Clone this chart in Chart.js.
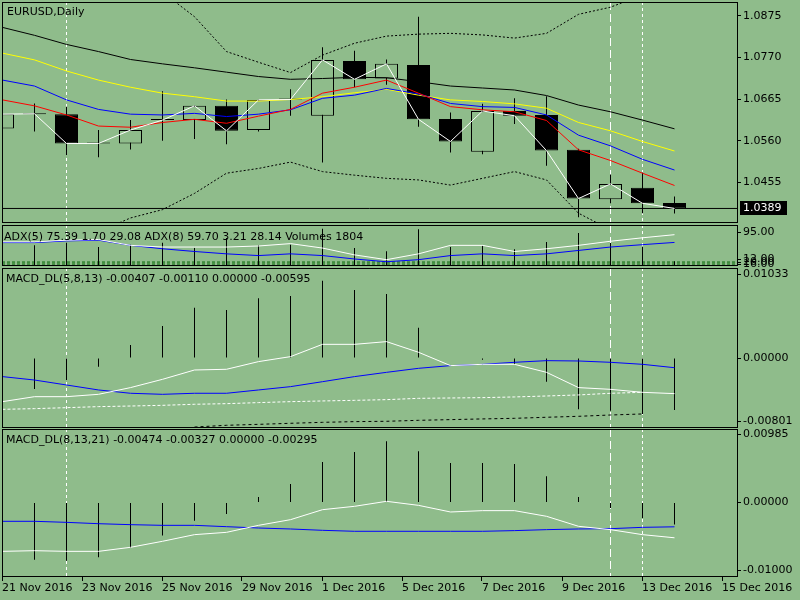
<!DOCTYPE html>
<html>
<head>
<meta charset="utf-8">
<title>EURUSD,Daily</title>
<script src="https://cdn.jsdelivr.net/npm/chart.js"></script>
<style>
    html, body { margin: 0; padding: 0; background: #8fbc8b; }
    body { width: 800px; height: 600px; position: relative; overflow: hidden; }
    canvas { position: absolute; left: 0; }
</style>
</head>
<body>
<canvas id="main" width="800" height="225" style="top:0px"></canvas>
<canvas id="adx" width="800" height="46" style="top:225px"></canvas>
<canvas id="macd1" width="800" height="160" style="top:268px"></canvas>
<canvas id="macd2" width="800" height="171" style="top:429px"></canvas>
<script>
// x axis date labels (one every 2.5 bars)
var dateLabels = ['21 Nov 2016', '23 Nov 2016', '25 Nov 2016', '29 Nov 2016', '1 Dec 2016', '5 Dec 2016', '7 Dec 2016', '9 Dec 2016', '13 Dec 2016', '15 Dec 2016'];
var labelStep = 2.5;

// daily candles
var opens  = [1.0591, 1.0627, 1.0627, 1.0553, 1.0553, 1.0612, 1.0612, 1.0648, 1.0587, 1.0664, 1.0623, 1.0761, 1.0717, 1.0751, 1.0615, 1.0532, 1.0635, 1.0625, 1.0537, 1.0412, 1.0441, 1.0403];
var highs  = [1.0640, 1.0654, 1.0646, 1.0587, 1.0612, 1.0685, 1.0650, 1.0664, 1.0664, 1.0690, 1.0796, 1.0787, 1.0765, 1.0873, 1.0631, 1.0653, 1.0667, 1.0672, 1.0540, 1.0475, 1.0480, 1.0419];
var lows   = [1.0578, 1.0583, 1.0524, 1.0518, 1.0538, 1.0560, 1.0564, 1.0551, 1.0583, 1.0623, 1.0505, 1.0695, 1.0701, 1.0595, 1.0530, 1.0526, 1.0602, 1.0497, 1.0367, 1.0402, 1.0377, 1.0376];
var closes = [1.0627, 1.0628, 1.0553, 1.0553, 1.0587, 1.0612, 1.0648, 1.0585, 1.0663, 1.0664, 1.0764, 1.0715, 1.0754, 1.0614, 1.0558, 1.0635, 1.0623, 1.0535, 1.0414, 1.0451, 1.0402, 1.0389];

// moving averages and bands on the price pane
var maBlack  = [1.0846, 1.0826, 1.0803, 1.0785, 1.0765, 1.0754, 1.0744, 1.0733, 1.0722, 1.0715, 1.0717, 1.0720, 1.0719, 1.0709, 1.0698, 1.0693, 1.0688, 1.0674, 1.0650, 1.0633, 1.0612, 1.0590];
var maYellow = [1.0781, 1.0764, 1.0736, 1.0713, 1.0695, 1.0680, 1.0671, 1.0660, 1.0660, 1.0664, 1.0671, 1.0681, 1.0690, 1.0675, 1.0663, 1.0659, 1.0653, 1.0642, 1.0606, 1.0585, 1.0558, 1.0534];
var maBlue   = [1.0713, 1.0698, 1.0663, 1.0639, 1.0627, 1.0625, 1.0629, 1.0621, 1.0627, 1.0638, 1.0667, 1.0675, 1.0692, 1.0678, 1.0654, 1.0646, 1.0644, 1.0625, 1.0574, 1.0547, 1.0513, 1.0486];
var maRed    = [1.0663, 1.0648, 1.0625, 1.0597, 1.0594, 1.0606, 1.0614, 1.0604, 1.0622, 1.0639, 1.0680, 1.0695, 1.0713, 1.0680, 1.0646, 1.0638, 1.0633, 1.0611, 1.0537, 1.0510, 1.0478, 1.0447];
var bandUpper = [1.1067, 1.1054, 1.1029, 1.1004, 1.0971, 1.0935, 1.0873, 1.0785, 1.0758, 1.0732, 1.0776, 1.0806, 1.0824, 1.0829, 1.0831, 1.0827, 1.0819, 1.0831, 1.0879, 1.0897, 1.0928, 1.0945];
var bandLower = [1.0259, 1.0272, 1.0289, 1.0330, 1.0365, 1.0386, 1.0427, 1.0478, 1.0490, 1.0506, 1.0482, 1.0473, 1.0465, 1.0461, 1.0448, 1.0465, 1.0482, 1.0461, 1.0377, 1.0335, 1.0297, 1.0272];

// ADX pane
var adx5 = [60.8, 60.8, 64.2, 65.6, 53.8, 50.4, 50.4, 50.4, 52.5, 57.3, 48.3, 34.5, 24.8, 36.6, 53.8, 53.8, 41.4, 46.9, 53.8, 62.1, 69.1, 75.39];
var adx8 = [59.4, 59.4, 62.8, 64.2, 53.8, 46.9, 41.4, 36.6, 33.1, 36.6, 33.1, 26.2, 20.6, 24.8, 33.1, 36.6, 33.1, 36.6, 43.5, 50.4, 55.2, 59.70];
var volumes = [8000, 7950, 8950, 7300, 8180, 8950, 6910, 10750, 7950, 8180, 14320, 6910, 5640, 14090, 7300, 7680, 6410, 9220, 12670, 8830, 7300, 1804];
var adxLevels = [20, 16];

// MACD_DL(5,8,13)
var macd1Main   = [-0.00499, -0.00442, -0.00442, -0.00415, -0.00338, -0.00243, -0.00136, -0.00128, -0.00040, 0.00017, 0.00158, 0.00158, 0.00189, 0.00067, -0.00086, -0.00071, -0.00071, -0.00163, -0.00338, -0.00358, -0.00392, -0.00407];
var macd1Signal = [-0.00212, -0.00251, -0.00308, -0.00365, -0.00403, -0.00415, -0.00403, -0.00403, -0.00365, -0.00327, -0.00270, -0.00212, -0.00163, -0.00117, -0.00086, -0.00071, -0.00048, -0.00029, -0.00033, -0.00048, -0.00071, -0.00110];
var macd1Hist   = [-0.00400, -0.00354, -0.00251, -0.00098, 0.00151, 0.00368, 0.00578, 0.00552, 0.00685, 0.00712, 0.00888, 0.00781, 0.00735, 0.00349, 0.00000, -0.00020, -0.00067, -0.00270, -0.00587, -0.00602, -0.00640, -0.00595];
var macd1Aux1   = [-0.00587, -0.00579, -0.00568, -0.00556, -0.00549, -0.00541, -0.00529, -0.00522, -0.00510, -0.00499, -0.00491, -0.00484, -0.00476, -0.00461, -0.00457, -0.00453, -0.00445, -0.00434, -0.00422, -0.00403, -0.00392, null];
var macd1Aux2   = [null, null, null, null, null, null, -0.00790, -0.00770, -0.00759, -0.00747, -0.00736, -0.00728, -0.00724, -0.00713, -0.00705, -0.00697, -0.00690, -0.00678, -0.00667, -0.00652, -0.00640, null];

// MACD_DL(8,13,21)
var macd2Main   = [-0.00656, -0.00647, -0.00656, -0.00656, -0.00602, -0.00521, -0.00432, -0.00401, -0.00307, -0.00231, -0.00097, -0.00052, 0.00015, -0.00039, -0.00128, -0.00110, -0.00110, -0.00186, -0.00320, -0.00365, -0.00432, -0.00474];
var macd2Signal = [-0.00253, -0.00253, -0.00267, -0.00285, -0.00298, -0.00307, -0.00307, -0.00325, -0.00343, -0.00356, -0.00374, -0.00387, -0.00387, -0.00387, -0.00387, -0.00387, -0.00378, -0.00365, -0.00356, -0.00352, -0.00334, -0.00327];
var macd2Hist   = [-0.00750, -0.00767, -0.00781, -0.00736, -0.00611, -0.00445, -0.00244, -0.00155, 0.00073, 0.00247, 0.00542, 0.00677, 0.00820, 0.00686, 0.00529, 0.00529, 0.00516, 0.00350, 0.00073, -0.00074, -0.00209, -0.00295];

// right axis tick values
var mainTicks  = [1.0455, 1.0560, 1.0665, 1.0770, 1.0875];
var adxTicks   = [95, 20, 16, 12];
var macd1Ticks = [0.01033, 0, -0.00801];
var macd2Ticks = [0.00985, 0, -0.01];

// bars marked with vertical lines
var markerBars = [2, 19, 20];

var bg = '#8fbc8b';
var xMin = -0.5 / 32;
var xMax = xMin + 735 / 32;

Chart.defaults.font.family = 'DejaVu Sans';
Chart.defaults.font.size = 11;
Chart.defaults.color = '#000';

function series(arr) {
    return arr.map(function (v, i) { return { x: i, y: v }; });
}
function span(a, b) {
    return a.map(function (v, i) { return { x: i, y: [v, b[i]] }; });
}
function line(data, color, order, dash, axis) {
    return {
        type: 'line', data: series(data), borderColor: color, borderWidth: 1,
        borderDash: dash || [], pointRadius: 0, tension: 0, fill: false,
        order: order, yAxisID: axis || 'y', spanGaps: false
    };
}
function level(v, color, order, dash) {
    return {
        type: 'line', data: [{ x: xMin, y: v }, { x: xMax, y: v }], borderColor: color,
        borderWidth: 1, borderDash: dash || [], pointRadius: 0, fill: false, order: order
    };
}
function sticks(data, order, axis) {
    return {
        type: 'bar', data: series(data), backgroundColor: '#000', borderWidth: 0,
        barThickness: 1, grouped: false, order: order, yAxisID: axis || 'y', inflateAmount: 0
    };
}

function yAxis(min, max, ticks, digits, paneH, inTop, inBottom) {
    return {
        position: 'right', min: min, max: max, bounds: 'data',
        grid: { drawOnChartArea: false, drawTicks: true, tickLength: 4, color: '#000' },
        border: { display: false },
        ticks: {
            padding: 2, autoSkip: false, color: '#000',
            callback: function (v, i) { return ticks[i].toFixed(digits); }
        },
        afterBuildTicks: function (s) {
            var perPx = (max - min) / paneH;
            s.ticks = ticks.map(function (v) {
                var p = v;
                if (v >= max) p = max - inTop * perPx;
                if (v <= min) p = min + inBottom * perPx;
                return { value: p };
            });
        },
        afterFit: function (s) { s.width = 63; s.paddingTop = 0; s.paddingBottom = 0; }
    };
}

function xAxis(show) {
    var ax = {
        type: 'linear', min: xMin, max: xMax, offset: false, display: show,
        grid: { drawOnChartArea: false, drawTicks: true, tickLength: 4, color: '#000', offset: false },
        border: { display: false },
        ticks: {
            align: 'start', maxRotation: 0, minRotation: 0, autoSkip: false, padding: 1, color: '#000',
            callback: function (v, i) { return dateLabels[i]; }
        },
        afterBuildTicks: function (s) {
            s.ticks = dateLabels.map(function (t, j) { return { value: xMin + j * labelStep }; });
        }
    };
    if (show) {
        ax.afterFit = function (s) { s.height = 23; s.paddingLeft = 0; s.paddingRight = 0; };
    }
    return ax;
}

var paneFrame = {
    id: 'paneFrame',
    afterDraw: function (chart, args, opts) {
        var ctx = chart.ctx, a = chart.chartArea;
        ctx.save();
        ctx.strokeStyle = '#000';
        ctx.lineWidth = 1;
        ctx.strokeRect(a.left + 0.5, a.top + 0.5, a.right - a.left, a.bottom - a.top - 1);
        ctx.fillStyle = '#000';
        ctx.font = '11px "DejaVu Sans"';
        ctx.textBaseline = 'middle';
        ctx.fillText(opts.title, opts.tx, a.top + opts.ty);
        ctx.restore();
    }
};

var markers = {
    id: 'markers',
    beforeDatasetsDraw: function (chart) {
        var ctx = chart.ctx, a = chart.chartArea, xs = chart.scales.x;
        var dashes = [[3, 3], [8, 4], [3, 3]];
        ctx.save();
        ctx.strokeStyle = '#fff';
        ctx.lineWidth = 1;
        markerBars.forEach(function (b, i) {
            var px = xs.getPixelForValue(b);
            ctx.setLineDash(dashes[i]);
            ctx.beginPath();
            ctx.moveTo(px, a.top);
            ctx.lineTo(px, a.bottom);
            ctx.stroke();
        });
        ctx.restore();
    }
};

var priceTag = {
    id: 'priceTag',
    afterDraw: function (chart) {
        var ctx = chart.ctx, a = chart.chartArea;
        var last = closes[closes.length - 1];
        var y = Math.round(chart.scales.y.getPixelForValue(last));
        ctx.save();
        ctx.fillStyle = '#000';
        ctx.fillRect(a.right + 3, y - 7, 47, 14);
        ctx.fillStyle = '#fff';
        ctx.font = '11px "DejaVu Sans"';
        ctx.textBaseline = 'middle';
        ctx.fillText(last.toFixed(4), a.right + 6, y + 0.5);
        ctx.restore();
    }
};

function baseOptions(padding, scales, frame) {
    return {
        responsive: false,
        animation: false,
        devicePixelRatio: 1,
        layout: { padding: padding },
        plugins: { legend: { display: false }, tooltip: { enabled: false }, paneFrame: frame },
        scales: scales
    };
}

// price pane
var bodyColors = closes.map(function (c, i) { return c >= opens[i] ? bg : '#000'; });
new Chart(document.getElementById('main'), {
    type: 'bar',
    data: {
        datasets: [
            line(closes, '#fff', 0),
            line(maRed, '#ff0000', 1),
            line(maBlue, '#0000ff', 1),
            line(maYellow, '#ffff00', 1),
            line(maBlack, '#000', 1),
            line(bandUpper, '#000', 2, [2, 2]),
            line(bandLower, '#000', 2, [2, 2]),
            {
                type: 'bar', data: span(opens, closes), backgroundColor: bodyColors, borderColor: '#000',
                borderWidth: 1, borderSkipped: false, barThickness: 23, minBarLength: 1,
                grouped: false, order: 3, inflateAmount: 0
            },
            {
                type: 'bar', data: span(lows, highs), backgroundColor: '#000', borderWidth: 0,
                barThickness: 1, grouped: false, order: 4, inflateAmount: 0
            },
            level(closes[closes.length - 1], '#000', 5)
        ]
    },
    options: baseOptions({ left: 2, right: 0, top: 2, bottom: 2 }, {
        x: xAxis(false),
        y: yAxis(1.03523, 1.09101, mainTicks, 4, 221, 0, 0)
    }, { title: 'EURUSD,Daily', tx: 7, ty: 10 }),
    plugins: [markers, paneFrame, priceTag]
});

// ADX + volumes pane
new Chart(document.getElementById('adx'), {
    type: 'bar',
    data: {
        datasets: [
            line(adx5, '#fff', 0),
            line(adx8, '#0000ff', 1),
            sticks(volumes, 2, 'yv'),
            level(adxLevels[0], '#006400', 3, [3, 2]),
            level(adxLevels[1], '#006400', 3, [3, 2])
        ]
    },
    options: baseOptions({ left: 2, right: 0, top: 0, bottom: 5 }, {
        x: xAxis(false),
        y: yAxis(12, 95, adxTicks, 2, 41, 7.5, 7),
        yv: { display: false, min: 0, max: 15750 }
    }, { title: 'ADX(5) 75.39 1.70 29.08 ADX(8) 59.70 3.21 28.14 Volumes 1804', tx: 4, ty: 12 }),
    plugins: [markers, paneFrame]
});

// MACD_DL(5,8,13) pane
new Chart(document.getElementById('macd1'), {
    type: 'bar',
    data: {
        datasets: [
            line(macd1Main, '#fff', 0),
            line(macd1Signal, '#0000ff', 1),
            line(macd1Aux1, '#fff', 2, [3, 2]),
            line(macd1Aux2, '#000', 2, [3, 3]),
            sticks(macd1Hist, 3)
        ]
    },
    options: baseOptions({ left: 2, right: 0, top: 0, bottom: 0 }, {
        x: xAxis(false),
        y: yAxis(-0.00801, 0.01033, macd1Ticks, 5, 160, 6, 7)
    }, { title: 'MACD_DL(5,8,13) -0.00407 -0.00110 0.00000 -0.00595', tx: 6, ty: 11 }),
    plugins: [markers, paneFrame]
});

// MACD_DL(8,13,21) pane with the date axis
new Chart(document.getElementById('macd2'), {
    type: 'bar',
    data: {
        datasets: [
            line(macd2Main, '#fff', 0),
            line(macd2Signal, '#0000ff', 1),
            sticks(macd2Hist, 3)
        ]
    },
    options: baseOptions({ left: 2, right: 0, top: 0, bottom: 0 }, {
        x: xAxis(true),
        y: yAxis(-0.01, 0.00985, macd2Ticks, 5, 148, 5.5, 6.5)
    }, { title: 'MACD_DL(8,13,21) -0.00474 -0.00327 0.00000 -0.00295', tx: 6, ty: 11 }),
    plugins: [markers, paneFrame]
});
</script>
</body>
</html>
